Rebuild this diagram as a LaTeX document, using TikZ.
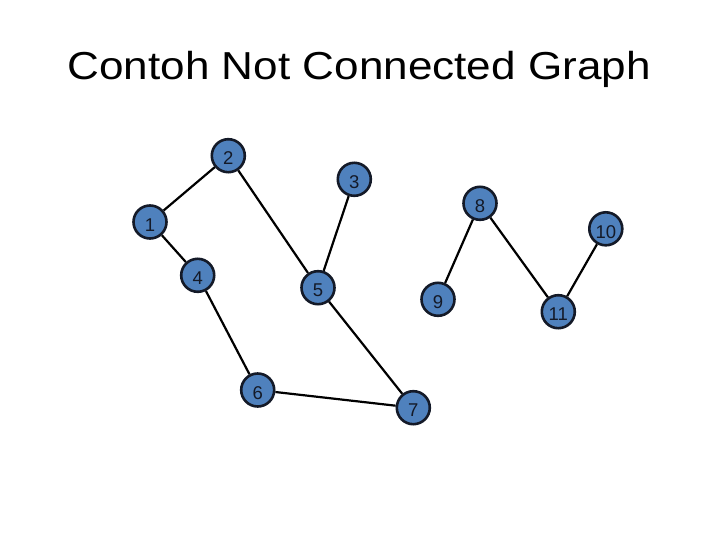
\documentclass[tikz,border=0pt]{standalone}
\usepackage{fontspec}
\setmainfont{Liberation Sans}
\definecolor{nodefill}{HTML}{4F81BD}
\definecolor{nodeline}{HTML}{141A28}
\begin{document}
\begin{tikzpicture}[x=1pt,y=-1pt,
  vert/.style={circle,draw=nodeline,fill=nodefill,line width=2.6pt,inner sep=0pt,
    minimum size=33pt,font=\fontsize{18.5}{18.5}\selectfont,text=nodeline,
    text height=18.4pt,text depth=0pt},
  edge/.style={line width=2.2pt,draw=black}]
\useasboundingbox[fill=white] (0,0) rectangle (720,540);
\node[anchor=base,font=\fontsize{39}{39}\selectfont,xscale=1.13,transform shape] (title) at (359.2,79.5) {Contoh Not Connected Graph};
\node[vert] (n1) at (150,222) {1};
\node[vert] (n2) at (228.3,155.7) {2};
\node[vert] (n3) at (354.3,179.3) {3};
\node[vert] (n4) at (197.7,275.3) {4};
\node[vert] (n5) at (318,287.7) {5};
\node[vert] (n6) at (257.7,390) {6};
\node[vert] (n7) at (413.3,407.7) {7};
\node[vert] (n8) at (480,203.3) {8};
\node[vert] (n9) at (438,299.3) {9};
\node[vert] (n10) at (605.8,228.8) {10};
\node[vert] (n11) at (558.3,311.7) {11};
\draw[edge] (n1) -- (n2);
\draw[edge] (n1) -- (n4);
\draw[edge] (n2) -- (n5);
\draw[edge] (n3) -- (n5);
\draw[edge] (n4) -- (n6);
\draw[edge] (n6) -- (n7);
\draw[edge] (n5) -- (n7);
\draw[edge] (n8) -- (n9);
\draw[edge] (n8) -- (n11);
\draw[edge] (n10) -- (n11);
\end{tikzpicture}
\end{document}
